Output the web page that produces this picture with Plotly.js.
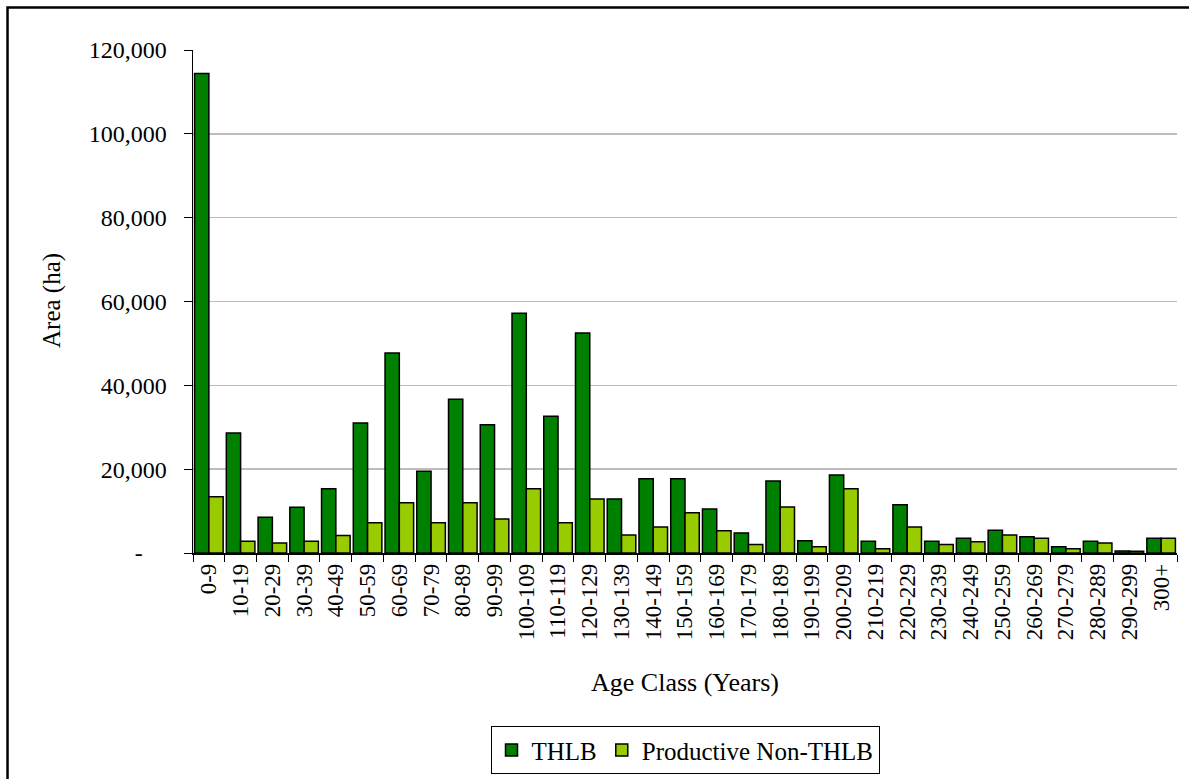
<!DOCTYPE html>
<html>
<head>
<meta charset="utf-8">
<script src="https://cdn.plot.ly/plotly-3.0.1.min.js"></script>
<style>
html,body{margin:0;padding:0;background:#fff;}
#chart{width:1189px;height:779px;}
</style>
</head>
<body>
<div id="chart"></div>
<script>
const categories = ["0-9","10-19","20-29","30-39","40-49","50-59","60-69","70-79","80-89","90-99",
  "100-109","110-119","120-129","130-139","140-149","150-159","160-169","170-179","180-189","190-199",
  "200-209","210-219","220-229","230-239","240-249","250-259","260-269","270-279","280-289","290-299","300+"];
const thlb = [114400,28600,8500,10900,15300,31000,47700,19500,36700,30600,
  57200,32600,52500,12900,17700,17700,10500,4800,17200,2900,
  18600,2800,11500,2800,3500,5400,3900,1500,2800,500,3500];
const nonThlb = [13400,2800,2400,2800,4200,7200,12000,7200,12000,8100,
  15300,7200,12900,4300,6200,9600,5300,2000,11000,1500,
  15300,1000,6200,2000,2700,4300,3500,1000,2400,400,3500];
const yTickVals = [0,20000,40000,60000,80000,100000,120000];
const yTickText = ["-\u00a0\u00a0\u00a0\u00a0","20,000","40,000","60,000","80,000","100,000","120,000"];
const xTitle = "Age Class (Years)";
const yTitle = "Area (ha)";

const FONT = "Liberation Serif, Times New Roman, serif";

const traces = [
  {type:"bar", name:"THLB", x:categories, y:thlb,
   marker:{color:"#008000", line:{color:"#000000", width:1.5}}},
  {type:"bar", name:"Productive Non-THLB", x:categories, y:nonThlb,
   marker:{color:"#99CC00", line:{color:"#000000", width:1.5}}}
];

const layout = {
  width:1189, height:779,
  paper_bgcolor:"#ffffff", plot_bgcolor:"#ffffff",
  margin:{l:193, r:12, t:50, b:225.5, autoexpand:false},
  barmode:"group", bargap:0.1, bargroupgap:0,
  font:{family:FONT, size:23, color:"#000"},
  showlegend:true,
  legend:{orientation:"h", x:0.5, xanchor:"center", y:-0.392, yanchor:"middle",
    bordercolor:"#000", borderwidth:1, font:{family:FONT, size:25, color:"#000"},
    itemwidth:30, tracegroupgap:0},
  xaxis:{type:"category", tickangle:-90, ticks:"outside", tickson:"boundaries",
    ticklen:7, tickcolor:"#000", showline:true, linecolor:"#000", linewidth:1.5,
    showgrid:false, automargin:false, tickfont:{family:FONT, size:23, color:"#000"}},
  yaxis:{range:[0,120000], tickvals:yTickVals, ticktext:yTickText, ticks:"outside",
    ticklen:8, tickcolor:"#000", showline:true, linecolor:"#000", linewidth:1.5,
    showgrid:true, gridcolor:"#bdbdbd", gridwidth:1.5, zeroline:false, automargin:false,
    ticklabelstandoff:12,
    tickfont:{family:FONT, size:24, color:"#000"}},
  annotations:[
    {text:xTitle, xref:"paper", yref:"paper", x:0.5, y:-0.2572, xanchor:"center", yanchor:"middle",
     showarrow:false, font:{family:FONT, size:26, color:"#000"}},
    {text:yTitle, xref:"paper", yref:"paper", x:-0.1433, y:0.503, xanchor:"center", yanchor:"middle",
     textangle:-90, showarrow:false, font:{family:FONT, size:25, color:"#000"}}
  ],
  shapes:[
    {type:"rect", xref:"paper", yref:"paper", x0:-0.1885, x1:1.5, y0:-1, y1:1.0844,
     line:{color:"#000", width:2.5}, fillcolor:"rgba(0,0,0,0)", layer:"below"}
  ]
};

Plotly.newPlot("chart", traces, layout, {displayModeBar:false, staticPlot:true});
</script>
</body>
</html>
